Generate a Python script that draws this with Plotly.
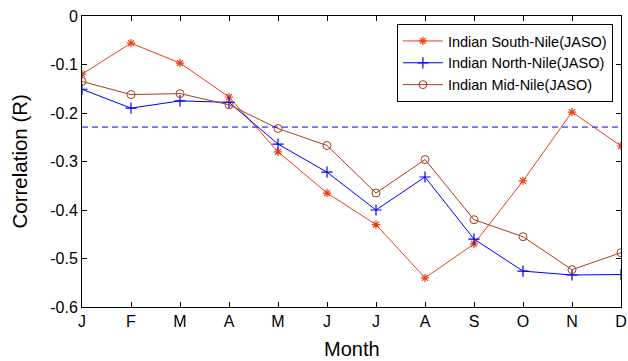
import plotly.graph_objects as go

months = ["J", "F", "M", "A", "M", "J", "J", "A", "S", "O", "N", "D"]
month_idx = list(range(1, 13))
south = [-0.120, -0.056, -0.097, -0.167, -0.280, -0.365, -0.430, -0.540, -0.470, -0.340, -0.198, -0.268]
north = [-0.151, -0.190, -0.175, -0.178, -0.264, -0.322, -0.400, -0.332, -0.460, -0.526, -0.534, -0.533]
mid = [-0.135, -0.162, -0.160, -0.183, -0.232, -0.267, -0.365, -0.296, -0.420, -0.455, -0.523, -0.488]
threshold = -0.229
names = ["Indian South-Nile(JASO)", "Indian North-Nile(JASO)", "Indian Mid-Nile(JASO)"]
x_title = "Month"
y_title = "Correlation (R)"

fig = go.Figure()
fig.add_trace(go.Scatter(x=month_idx, y=south, name=names[0], mode="lines+markers",
                         line=dict(color="#e8401c", width=1),
                         marker=dict(symbol="asterisk-open", size=7, color="#e8401c", line=dict(width=1.2, color="#e8401c"))))
fig.add_trace(go.Scatter(x=month_idx, y=north, name=names[1], mode="lines+markers",
                         line=dict(color="#0000ff", width=1),
                         marker=dict(symbol="cross-thin-open", size=8, color="#0000ff", line=dict(width=1.2, color="#0000ff"))))
fig.add_trace(go.Scatter(x=month_idx, y=mid, name=names[2], mode="lines+markers",
                         line=dict(color="#a3421c", width=1),
                         marker=dict(symbol="circle-open", size=8, color="#a3421c", line=dict(width=1, color="#a3421c"))))
fig.add_trace(go.Scatter(x=[month_idx[0], month_idx[-1]], y=[threshold, threshold], mode="lines",
                         line=dict(color="#0000ff", width=1, dash="6px,4px"), showlegend=False, hoverinfo="skip"))

fig.update_layout(
    width=628, height=361,
    margin=dict(l=82, r=7, t=16, b=54),
    paper_bgcolor="white", plot_bgcolor="white",
    font=dict(family="Liberation Sans, Arial, sans-serif", color="black", size=16),
    legend=dict(x=0.985, y=0.9725, xanchor="right", yanchor="top",
                bordercolor="black", borderwidth=1, bgcolor="white",
                font=dict(size=14.5), tracegroupgap=0, itemwidth=40),
    xaxis=dict(range=[1, 12], tickvals=month_idx, ticktext=months, automargin=False,
               showgrid=False, zeroline=False, showline=True, linecolor="black", linewidth=1,
               mirror="ticks", ticks="inside", ticklen=5, tickcolor="black"),
    yaxis=dict(range=[-0.6, 0], tickvals=[-0.6, -0.5, -0.4, -0.3, -0.2, -0.1, 0],
               ticktext=["-0.6", "-0.5", "-0.4", "-0.3", "-0.2", "-0.1", "0"], automargin=False,
               showgrid=False, zeroline=False, showline=True, linecolor="black", linewidth=1,
               mirror="ticks", ticks="inside", ticklen=5, tickcolor="black"),
    annotations=[
        dict(text=x_title, xref="paper", yref="paper", x=0.5, y=0, xanchor="center", yanchor="middle",
             yshift=-42, showarrow=False, font=dict(size=20)),
        dict(text=y_title, xref="paper", yref="paper", x=0, y=0.5, xanchor="center", yanchor="middle",
             xshift=-63, textangle=-90, showarrow=False, font=dict(size=20.5)),
    ],
)

fig.write_html("out.html", config={"displayModeBar": False},
               post_script="document.body.style.margin='0';document.body.style.overflow='hidden';")
